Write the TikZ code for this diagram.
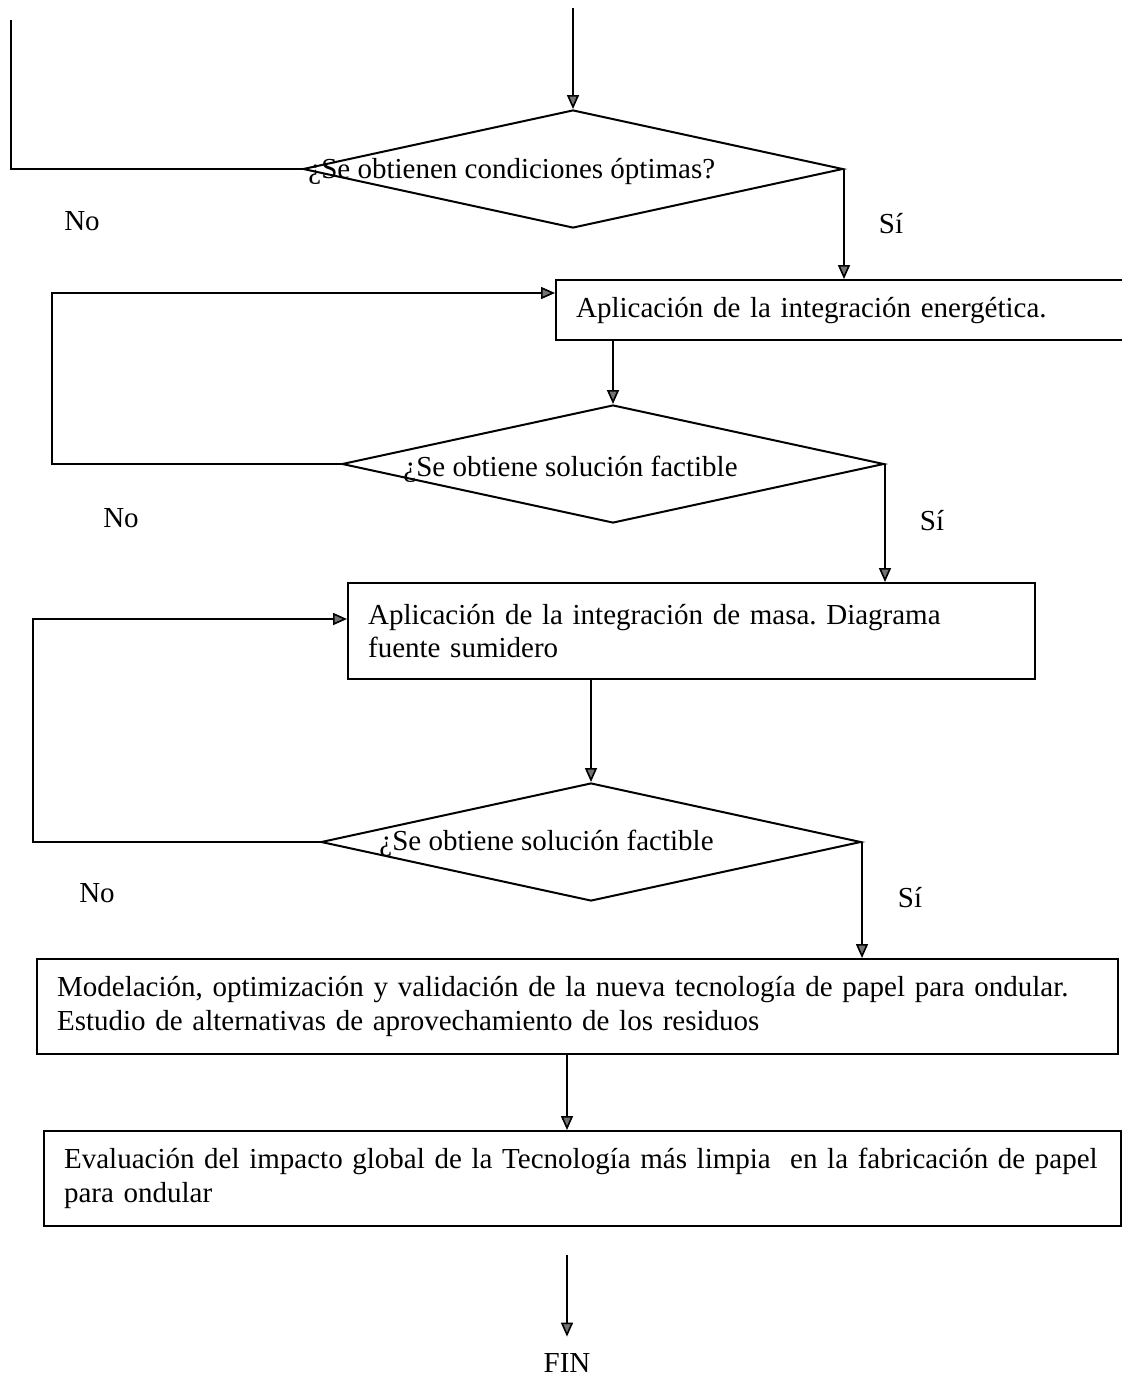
\documentclass[tikz,border=0pt]{standalone}
\usepackage{fontspec}
\setmainfont{Liberation Serif}
\usetikzlibrary{shapes.geometric, arrows.meta}
\frenchspacing

\tikzset{
    arr/.style={line width=0.8pt, -{Triangle[length=7pt, width=6pt, fill=black!55]}},
    qdia/.style={draw, shape=diamond, line width=1pt, inner sep=0pt, minimum width=270pt, minimum height=59pt},
    qtxt/.style={anchor=base west, inner sep=0pt},
    pbox/.style={draw, line width=1.1pt, anchor=north west, align=left, inner xsep=10pt, inner ysep=0pt},
    lbl/.style={anchor=base, inner sep=0pt},
}

\begin{document}
\begin{tikzpicture}[x=0.5pt, y=-0.5pt, font=\fontsize{14.5}{16.8}\selectfont]
    \useasboundingbox (0,0) rectangle (1122,1376);

    % Decisions and steps
    \node[qdia] (optimas) at (573,169) {};
    \node[qtxt] (optimast) at (308,178) {¿Se obtienen condiciones óptimas?};

    \node[pbox, text width=272.5pt, minimum height=30pt] (energia) at (555,279) {Aplicación de la integración energética.};

    \node[qdia, minimum width=271pt] (factible1) at (613,464) {};
    \node[qtxt] (factible1t) at (403,476) {¿Se obtiene solución factible};

    \node[pbox, text width=323.5pt, minimum height=48pt] (masa) at (347,582) {Aplicación de la integración de masa. Diagrama\\fuente sumidero};

    \node[qdia] (factible2) at (591,842) {};
    \node[qtxt] (factible2t) at (379,850) {¿Se obtiene solución factible};

    \node[pbox, text width=520.5pt, minimum height=47.5pt] (modelo) at (36,958) {Modelación, optimización y validación de la nueva tecnología de papel para ondular.\\Estudio de alternativas de aprovechamiento de los residuos};

    \node[pbox, text width=518.5pt, minimum height=47.5pt] (impacto) at (43,1130) {Evaluación del impacto global de la Tecnología más limpia \ en la fabricación de papel\\para ondular};

    \node[lbl, inner sep=8pt] (fin) at (567,1372) {FIN};

    % Yes / no labels
    \node[lbl] (no1) at (82,230) {No};
    \node[lbl] (si1) at (891,233) {Sí};
    \node[lbl] (no2) at (121,527) {No};
    \node[lbl] (si2) at (932,530) {Sí};
    \node[lbl] (no3) at (97,902) {No};
    \node[lbl] (si3) at (910,907) {Sí};

    % Connectors
    \coordinate (inicio) at (573,8);
    \draw[arr] (inicio) -- (optimas.north);

    \coordinate (ret0) at (11,20);
    \draw[line width=0.8pt] (optimas.west) -| (ret0);
    \draw[arr] (optimas.east) -- (optimas.east |- energia.north);

    \coordinate (ret1) at (52,293);
    \draw[arr] (factible1.west) -| (ret1) -- (ret1 -| energia.west);
    \draw[arr] (factible1.north |- energia.south) -- (factible1.north);
    \draw[arr] (factible1.east) -- (factible1.east |- masa.north);

    \coordinate (ret2) at (33,619);
    \draw[arr] (factible2.west) -| (ret2) -- (ret2 -| masa.west);
    \draw[arr] (factible2.north |- masa.south) -- (factible2.north);
    \draw[arr] (factible2.east) -- (factible2.east |- modelo.north);

    \draw[arr] (modelo.south -| fin) -- (impacto.north -| fin);
    \coordinate (finini) at (567,1255);
    \draw[arr] (finini) -- (fin.north);

\end{tikzpicture}
\end{document}
